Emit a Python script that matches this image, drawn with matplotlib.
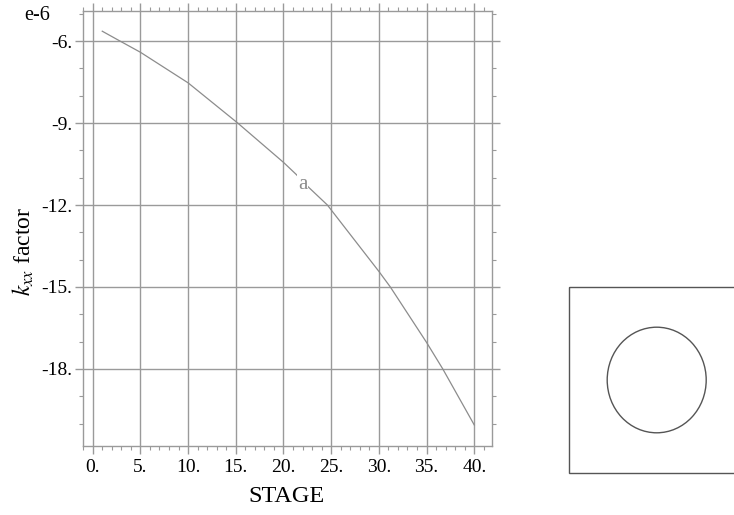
import numpy as np
import matplotlib
matplotlib.use('Agg')
import matplotlib.pyplot as plt
from matplotlib.patches import Rectangle, Ellipse
from matplotlib.ticker import MultipleLocator, FuncFormatter

plt.rcParams['font.family'] = ['Liberation Serif', 'DejaVu Serif']
plt.rcParams['mathtext.fontset'] = 'stix'

# kxx factor (e-6) vs. stage
stage = [1, 2.86, 5, 10, 15.2, 20, 21.3, 22.6, 24.6, 30, 31.2, 35, 36.7, 40]
kxx = [-5.64, -6.0, -6.41, -7.53, -9.0, -10.44, -10.87, -11.34, -12.0,
       -14.43, -15.0, -17.03, -18.0, -20.05]
curve_label = 'a'
label_at = (22.0, -11.25)

x_major = 5
y_major = 3
gray = '#9a9a9a'

fig = plt.figure(figsize=(7.34, 5.15), dpi=100)
W, H = 734, 515
ax = fig.add_axes([83/W, 1-446/H, (492-83)/W, (446-11)/H])

ax.plot(stage, kxx, color='#8c8c8c', lw=0.9, zorder=3)
ax.text(*label_at, curve_label, color='#8c8c8c', fontsize=15, ha='center', va='center',
        zorder=4, bbox=dict(facecolor='white', edgecolor='none', pad=0.5))

ax.set_xlim(-1.02, 41.86)
ax.set_ylim(-20.82, -4.90)
ax.xaxis.set_major_locator(MultipleLocator(x_major))
ax.xaxis.set_minor_locator(MultipleLocator(1))
ax.yaxis.set_major_locator(MultipleLocator(y_major))
ax.yaxis.set_minor_locator(MultipleLocator(1))
fmt = FuncFormatter(lambda v, p: '%d.' % round(v))
ax.xaxis.set_major_formatter(fmt)
ax.yaxis.set_major_formatter(fmt)

ax.grid(True, which='major', color=gray, lw=1.0)
for s in ax.spines.values():
    s.set_color(gray)
    s.set_linewidth(1.0)
ax.tick_params(which='both', direction='out', color=gray, top=True, right=True,
               labeltop=False, labelright=False, labelsize=14)
ax.tick_params(which='major', length=5.5, width=1.0)
ax.tick_params(which='minor', length=3, width=0.8)
ax.tick_params(axis='x', which='major', pad=4)
ax.tick_params(axis='y', which='major', pad=2)

fig.text(37/W, 1-15/H, 'e-6', fontsize=14.5, ha='center', va='center')
fig.text(23/W, 1-251/H, '$k_{xx}$ factor', fontsize=17, rotation=90, ha='center', va='center')
fig.text(286/W, 1-496/H, 'STAGE', fontsize=17.5, ha='center', va='center')

# cross-section sketch on the right
ov = fig.add_axes([0, 0, 1, 1], facecolor='none')
ov.set_xlim(0, W)
ov.set_ylim(H, 0)
ov.axis('off')
ov.add_patch(Rectangle((569.3, 286.7), 200, 473.3-286.7, fill=False, edgecolor='#555555', lw=1.0))
ov.add_patch(Ellipse((656.7, 380), 99, 105.6, fill=False, edgecolor='#555555', lw=1.0))

fig.savefig('out.png', dpi=100)
